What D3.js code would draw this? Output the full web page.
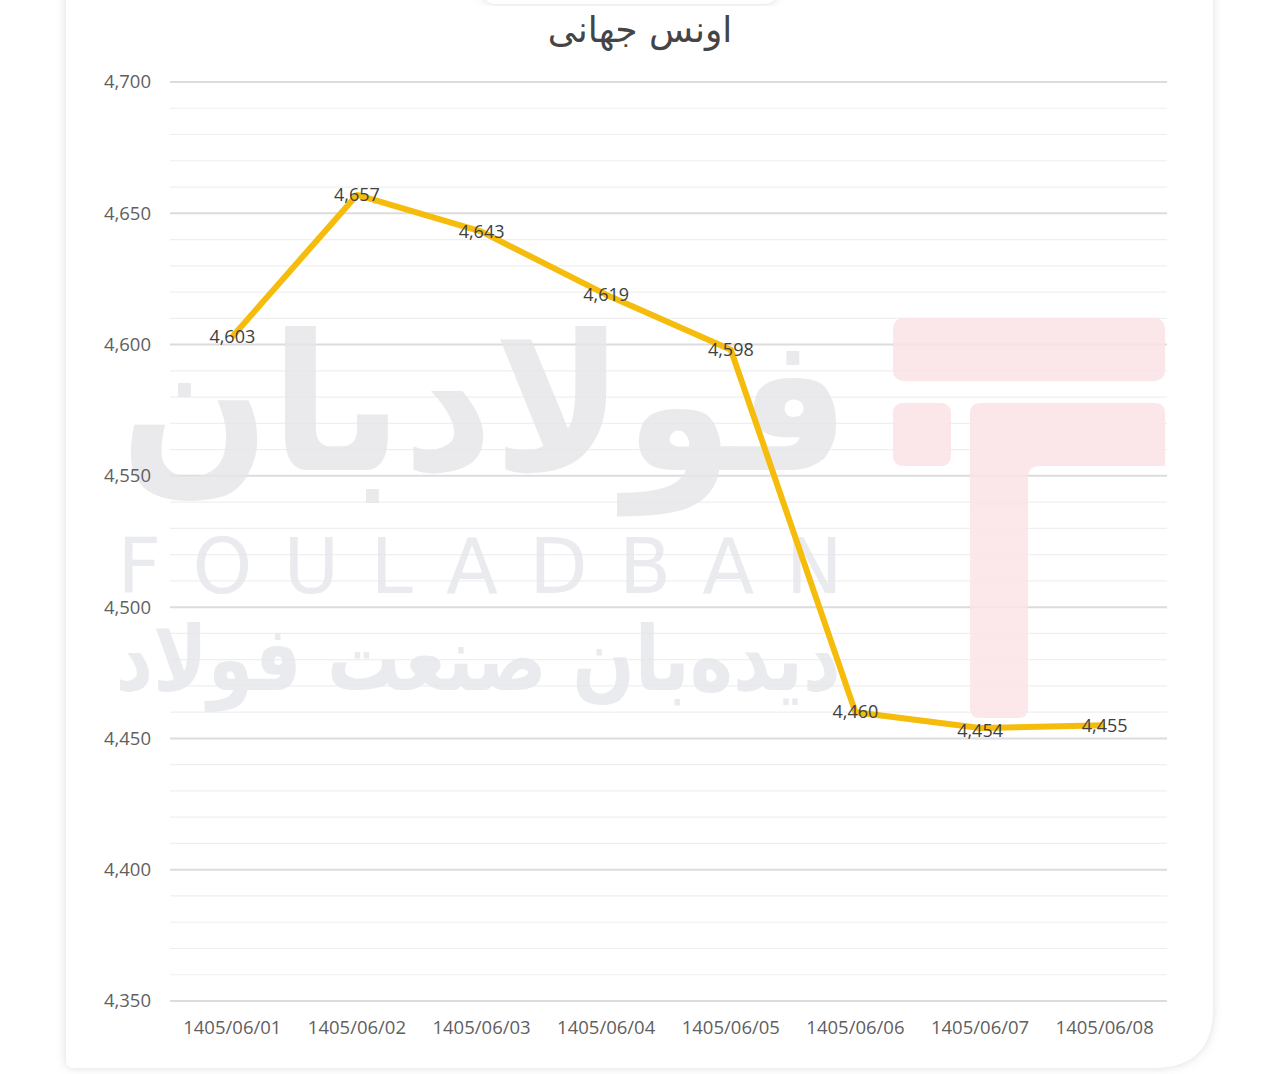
<!DOCTYPE html>
<html>
<head>
<meta charset="utf-8">
<script src="https://cdn.jsdelivr.net/npm/d3@7"></script>
<style>
  html, body { margin: 0; padding: 0; background: #ffffff; }
  svg { display: block; }
</style>
</head>
<body>
<svg id="chart" width="1280" height="1074"></svg>
<script>
const title = "اونس جهانی";
const categories = ["1405/06/01","1405/06/02","1405/06/03","1405/06/04","1405/06/05","1405/06/06","1405/06/07","1405/06/08"];
const values = [4603, 4657, 4643, 4619, 4598, 4460, 4454, 4455];
const yMajorTicks = [4350, 4400, 4450, 4500, 4550, 4600, 4650, 4700];
const yMinorTicks = d3.range(4350, 4701, 10);

const svg = d3.select("#chart");
const W = 1280, H = 1074;
const margin = {left: 170, right: 113, top: 82, bottom: 73};

const defs = svg.append("defs");
const f = defs.append("filter").attr("id","cardShadow").attr("x","-5%").attr("y","-5%").attr("width","110%").attr("height","110%");
f.append("feDropShadow").attr("dx",0).attr("dy",0).attr("stdDeviation",5).attr("flood-color","#9a9aa0").attr("flood-opacity",0.35);

// card (rounded bottom-right corner)
svg.append("path")
  .attr("d","M66,-20 H1213 V1008 Q1213,1068 1153,1068 H74 Q66,1068 66,1060 Z")
  .attr("fill","#ffffff").attr("filter","url(#cardShadow)");
// top pill
svg.append("rect").attr("x",482).attr("y",-30).attr("width",296).attr("height",34)
  .attr("rx",14).attr("fill","#ffffff").attr("filter","url(#cardShadow)");

const x = d3.scaleBand().domain(categories).range([margin.left, W - margin.right]);
const y = d3.scaleLinear().domain([4350, 4700]).range([H - margin.bottom, margin.top]);

// minor grid
svg.append("g").selectAll("line").data(yMinorTicks.filter(v => v % 50 !== 0)).join("line")
  .attr("x1", margin.left).attr("x2", W - margin.right)
  .attr("y1", d => y(d)).attr("y2", d => y(d))
  .attr("stroke", "#efeff1").attr("stroke-width", 1.2);

// major grid
svg.append("g").selectAll("line").data(yMajorTicks).join("line")
  .attr("x1", margin.left).attr("x2", W - margin.right)
  .attr("y1", d => y(d)).attr("y2", d => y(d))
  .attr("stroke", "#dcdcde").attr("stroke-width", 2);

// watermark
const wm = svg.append("g").attr("opacity", 0.8);
wm.append("text").attr("x", 485).attr("y", 470).attr("text-anchor","middle")
  .attr("font-family","DejaVu Sans").attr("font-weight","bold").attr("font-size",190)
  .attr("textLength",730).attr("lengthAdjust","spacingAndGlyphs")
  .attr("fill","#e5e6e9").attr("direction","rtl").text("فولادبان");
wm.append("text").attr("x", 480).attr("y", 593).attr("text-anchor","middle")
  .attr("font-family","DejaVu Sans").attr("font-size",76)
  .attr("textLength",725).attr("lengthAdjust","spacing")
  .attr("fill","#e6e7ea").text("FOULADBAN");
wm.append("text").attr("x", 478).attr("y", 690).attr("text-anchor","middle")
  .attr("font-family","DejaVu Sans").attr("font-weight","bold").attr("font-size",90)
  .attr("textLength",725).attr("lengthAdjust","spacingAndGlyphs")
  .attr("fill","#e6e7ea").attr("direction","rtl").text("دیده‌بان صنعت فولاد");
const pink = "#fbe3e6";
const logo = svg.append("g").attr("opacity",0.85);
logo.append("rect").attr("x",893).attr("y",318).attr("width",272).attr("height",63).attr("rx",10).attr("fill",pink);
logo.append("rect").attr("x",893).attr("y",403).attr("width",58).attr("height",63).attr("rx",9).attr("fill",pink);
logo.append("path").attr("fill",pink)
  .attr("d","M980,403 H1155 Q1165,403 1165,413 V466 H1040 Q1028,466 1028,478 V708 Q1028,718 1018,718 H980 Q970,718 970,708 V413 Q970,403 980,403 Z");

// y axis labels
svg.append("g").selectAll("text").data(yMajorTicks).join("text")
  .attr("x", 151).attr("y", d => y(d)).attr("dy","0.35em").attr("text-anchor","end")
  .attr("font-family","Open Sans").attr("font-size",18.5).attr("fill","#5f5f5f")
  .text(d => d3.format(",")(d));

// x axis labels
svg.append("g").selectAll("text").data(categories).join("text")
  .attr("x", d => x(d) + x.bandwidth()/2).attr("y", 1028).attr("dy","0.35em").attr("text-anchor","middle")
  .attr("font-family","Open Sans").attr("font-size",18.5).attr("fill","#5f5f5f")
  .text(d => d);

// title
svg.append("text").attr("x", 640).attr("y", 29).attr("dy","0.35em").attr("text-anchor","middle")
  .attr("font-family","DejaVu Sans").attr("font-size",36).attr("fill","#454545")
  .attr("direction","rtl").text(title);

// line
const pts = categories.map((c,i) => [x(c) + x.bandwidth()/2, y(values[i])]);
svg.append("path").datum(pts)
  .attr("d", d3.line())
  .attr("fill","none").attr("stroke","#f5bc0c").attr("stroke-width",6)
  .attr("stroke-linejoin","round").attr("stroke-linecap","butt");

// data labels
svg.append("g").selectAll("text").data(values).join("text")
  .attr("x", (d,i) => pts[i][0]).attr("y", (d,i) => pts[i][1] + (i===6 ? 3 : 0)).attr("dy","0.35em").attr("text-anchor","middle")
  .attr("font-family","Open Sans").attr("font-size",18).attr("fill","#404040")
  .text(d => d3.format(",")(d));
</script>
</body>
</html>
